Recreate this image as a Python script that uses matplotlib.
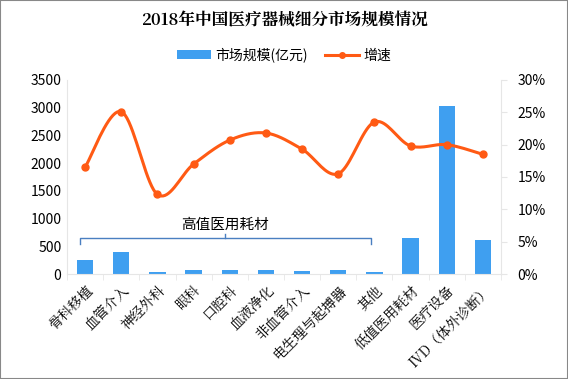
import numpy as np
import matplotlib.pyplot as plt
from matplotlib.ticker import FuncFormatter

plt.rcParams['font.family'] = ['Noto Sans CJK SC', 'DejaVu Sans']

categories = ['骨科移植', '血管介入', '神经外科', '眼科', '口腔科', '血液净化',
              '非血管介入', '电生理与起搏器', '其他', '低值医用耗材', '医疗设备',
              'IVD（体外诊断）']
market_size = [250, 400, 40, 70, 70, 70, 50, 70, 40, 650, 3030, 610]
growth = [16.5, 25.1, 12.3, 17.0, 20.7, 21.8, 19.3, 15.5, 23.5, 19.8, 20.0, 18.5]

bar_color = '#3f9ff0'
line_color = '#ff5a14'


def smooth(xs, ys, n=20):
    # catmull-rom style curve through the points, for drawing only
    px, py = [], []
    xs = np.asarray(xs, float)
    ys = np.asarray(ys, float)
    for i in range(len(xs) - 1):
        x0, y0 = (xs[i - 1], ys[i - 1]) if i > 0 else (xs[i], ys[i])
        x3, y3 = (xs[i + 2], ys[i + 2]) if i + 2 < len(xs) else (xs[i + 1], ys[i + 1])
        x1, y1, x2, y2 = xs[i], ys[i], xs[i + 1], ys[i + 1]
        t = np.linspace(0, 1, n)
        c1x, c1y = x1 + (x2 - x0) / 6, y1 + (y2 - y0) / 6
        c2x, c2y = x2 - (x3 - x1) / 6, y2 - (y3 - y1) / 6
        bx = (1 - t) ** 3 * x1 + 3 * (1 - t) ** 2 * t * c1x + 3 * (1 - t) * t ** 2 * c2x + t ** 3 * x2
        by = (1 - t) ** 3 * y1 + 3 * (1 - t) ** 2 * t * c1y + 3 * (1 - t) * t ** 2 * c2y + t ** 3 * y2
        px.extend(bx)
        py.extend(by)
    return px, py


fig = plt.figure(figsize=(5.68, 3.79), dpi=100)
ax = fig.add_axes([0.118, 0.277, 0.764, 0.512])
ax2 = ax.twinx()

x = np.arange(len(categories))
ax.bar(x, market_size, width=0.45, color=bar_color, label='市场规模(亿元)', zorder=2)
ax.set_ylim(0, 3500)
ax.set_xlim(-0.5, len(categories) - 0.5)
ax.set_yticks(range(0, 3501, 500))
ax.set_xticks(x)
ax.set_xticklabels(categories, rotation=45, ha='right', rotation_mode='anchor',
                   fontsize=10.5, family=['Noto Serif CJK SC', 'Noto Sans CJK SC', 'DejaVu Sans'])

sx, sy = smooth(x, growth)
ax2.plot(sx, sy, color=line_color, lw=2.2, zorder=3)
ax2.plot(x, growth, 'o', color=line_color, ms=5, zorder=4)
ax2.plot([], [], color=line_color, lw=2.2, marker='o', ms=4, label='增速')
ax2.set_ylim(0, 30)
ax2.set_yticks(range(0, 31, 5))
ax2.yaxis.set_major_formatter(FuncFormatter(lambda v, p: f'{v:.0f}%'))

for a in (ax, ax2):
    for s in ('top', 'right', 'left', 'bottom'):
        a.spines[s].set_visible(False)
    a.tick_params(labelsize=10, length=0, pad=4)
ax.spines['left'].set_visible(True)
ax.spines['left'].set_color('#e6e6e6')
ax.spines['bottom'].set_visible(True)
ax.spines['bottom'].set_color('#e6e6e6')
ax2.spines['right'].set_visible(True)
ax2.spines['right'].set_color('#e6e6e6')
ax2.tick_params(axis='y', length=4, color='#e6e6e6', direction='out', pad=8)
ax.tick_params(axis='x', length=4, color='#e6e6e6', direction='out', pad=6)
ax.set_xticks(np.arange(-0.5, len(categories), 1), minor=True)
ax.tick_params(axis='x', which='major', length=0)
ax.tick_params(axis='x', which='minor', length=4, color='#e6e6e6')

# bracket over the high-value consumables
bl, br, by_, bt = -0.15, 7.9, 650, 540
ax.plot([bl, bl, br, br], [bt, by_, by_, bt], color='#4a7fc1', lw=1, zorder=3)
ax.plot([(bl + br) / 2] * 2, [by_, by_ + 70], color='#4a7fc1', lw=1, zorder=3)
ax.text((bl + br) / 2, by_ + 120, '高值医用耗材', ha='center', va='bottom', fontsize=10.5)

fig.text(0.5, 0.945, '2018年中国医疗器械细分市场规模情况', ha='center', va='center',
         fontsize=12, fontweight='bold',
         family=['Noto Serif CJK SC', 'Noto Sans CJK SC', 'DejaVu Sans'])

h1, l1 = ax.get_legend_handles_labels()
h2, l2 = ax2.get_legend_handles_labels()
fig.legend(h1 + h2, l1 + l2, loc='center', bbox_to_anchor=(0.5, 0.855), ncol=2,
           frameon=False, fontsize=10, handlelength=2.5, columnspacing=1.2,
           handletextpad=0.3)

fig.patches.append(plt.Rectangle((0, 0), 1, 1, transform=fig.transFigure,
                                 fill=False, edgecolor='#888888', lw=1.5))

fig.savefig('out.png', dpi=100)
